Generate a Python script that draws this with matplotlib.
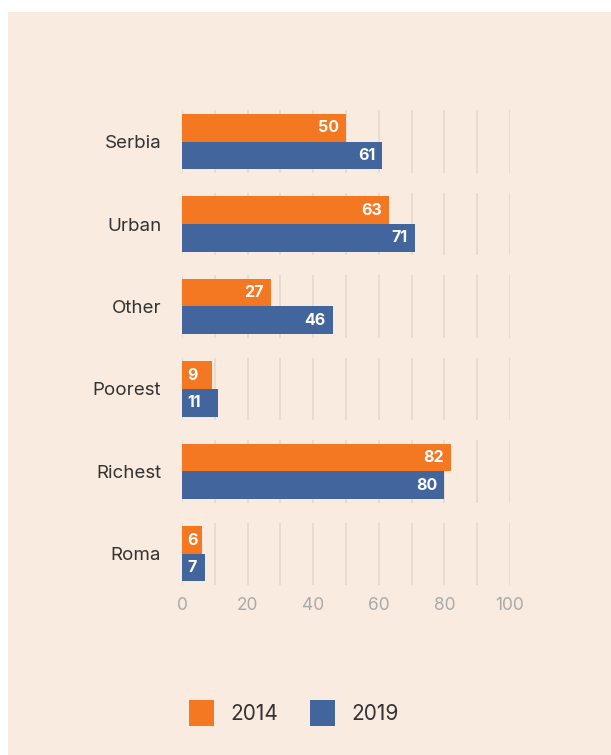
import matplotlib.pyplot as plt
import numpy as np

# data
categories = ['Serbia', 'Urban', 'Other', 'Poorest', 'Richest', 'Roma']
v2014 = [50, 63, 27, 9, 82, 6]
v2019 = [61, 71, 46, 11, 80, 7]
years = ['2014', '2019']
xticks = [0, 20, 40, 60, 80, 100]

orange = '#F47721'
blue = '#41659C'
bg = '#F9EBDF'

plt.rcParams['font.family'] = ['Inter', 'DejaVu Sans']

fig = plt.figure(figsize=(6.11, 7.55), dpi=100)
fig.patch.set_facecolor('white')
# beige panel behind everything
fig.patches.append(plt.Rectangle((8 / 611, 0), 1, 1 - 12 / 755, transform=fig.transFigure,
                                 facecolor=bg, edgecolor='none', zorder=-10))

ax = fig.add_axes([182 / 611, 0.2166, 328 / 611, 0.651])
ax.set_facecolor('none')

y = np.arange(len(categories))
h = 0.334

# gridline segments per group
for yi in y:
    ax.vlines(np.arange(0, 101, 10), yi - 0.38, yi + 0.38, color='#E8DACC', lw=1.3, zorder=1)

b1 = ax.barh(y - h / 2, v2014, height=h, color=orange, zorder=2, label=years[0])
b2 = ax.barh(y + h / 2, v2019, height=h, color=blue, zorder=2, label=years[1])

for bars, vals in [(b1, v2014), (b2, v2019)]:
    for bar, v in zip(bars, vals):
        yc = bar.get_y() + bar.get_height() / 2
        if v < 15:
            ax.annotate(str(v), (0, yc), xytext=(4, 0), textcoords='offset points',
                        ha='left', va='center', color='white', fontsize=11.5, fontweight='bold', zorder=3)
        else:
            ax.annotate(str(v), (v, yc), xytext=(-5, 0), textcoords='offset points',
                        ha='right', va='center', color='white', fontsize=11.5, fontweight='bold', zorder=3)

ax.set_xlim(0, 100)
ax.set_ylim(5.455, -0.504)
ax.set_yticks(y)
ax.set_yticklabels(categories, fontsize=13.5, color='#333333')
ax.set_xticks(xticks)
ax.set_xticklabels([str(t) for t in xticks], fontsize=12.5, color='#AAAAAA')
ax.tick_params(axis='both', length=0)
ax.tick_params(axis='y', pad=15)
ax.tick_params(axis='x', pad=4)
for s in ax.spines.values():
    s.set_visible(False)

leg = ax.legend(handles=[b1, b2], labels=years, loc='center', bbox_to_anchor=(294 / 611, 1 - 713 / 755),
                bbox_transform=fig.transFigure, ncol=2, frameon=False, fontsize=15,
                handlelength=1.2, handleheight=1.6, handletextpad=0.8, columnspacing=1.5)
for t in leg.get_texts():
    t.set_color('#333333')

fig.savefig('out.png', dpi=100, facecolor=fig.get_facecolor())
